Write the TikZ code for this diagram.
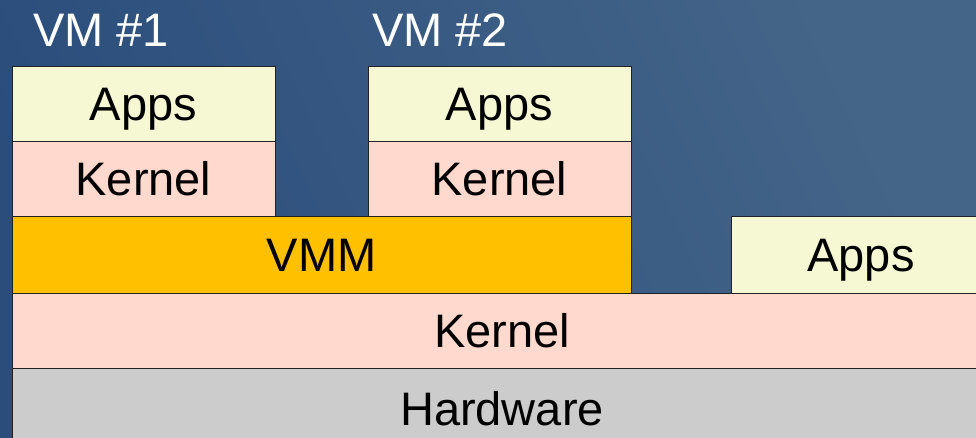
\documentclass[tikz,border=0pt]{standalone}
\usepackage{fontspec}
\setmainfont{Liberation Sans}
\definecolor{bgdark}{HTML}{2A4D7C}
\definecolor{bglight}{HTML}{456588}
\definecolor{appsfill}{HTML}{F6F8D4}
\definecolor{kernfill}{HTML}{FFD9CE}
\definecolor{vmmfill}{HTML}{FFC000}
\definecolor{hwfill}{HTML}{CCCCCC}
\definecolor{edge}{HTML}{222222}
\tikzset{
  layer/.style={draw=edge, line width=0.9pt, inner sep=0pt, outer sep=0pt,
    text height=34pt, text depth=0pt,
    font=\fontsize{47}{50}\selectfont, text=black},
  vmlabel/.style={font=\fontsize{47}{50}\selectfont, text=white, inner sep=0pt, anchor=base west}
}
\begin{document}
\begin{tikzpicture}[x=1pt,y=-1pt]
  \useasboundingbox (0,0) rectangle (976,438);
  \clip (0,0) rectangle (976,438);
  % backdrop
  \shade[bottom color=bgdark, top color=bglight, shading angle=-65] (0,0) rectangle (976,438);
  % first guest
  \node[vmlabel] (vm1) at (33,47) {VM \#1};
  \node[layer, fill=appsfill, minimum width=263pt, minimum height=75pt] (apps1) at (143.5,103.5) {Apps};
  \node[layer, fill=kernfill, minimum width=263pt, minimum height=75pt] (kern1) at (143.5,178.5) {Kernel};
  % second guest
  \node[vmlabel] (vm2) at (372,47) {VM \#2};
  \node[layer, fill=appsfill, minimum width=263pt, minimum height=75pt] (apps2) at (499.5,103.5) {Apps};
  \node[layer, fill=kernfill, minimum width=263pt, minimum height=75pt] (kern2) at (499.5,178.5) {Kernel};
  % monitor and host applications
  \node[layer, fill=vmmfill, minimum width=619pt, minimum height=77pt] (vmm) at (321.5,254.5) {VMM};
  \node[layer, fill=appsfill, minimum width=260pt, minimum height=77pt] (apps3) at (861,254.5) {Apps};
  % host layers
  \node[layer, fill=kernfill, minimum width=980pt, minimum height=75pt] (hkern) at (502,330.5) {Kernel};
  \node[layer, fill=hwfill, minimum width=980pt, minimum height=80pt] (hw) at (502,408) {Hardware};
\end{tikzpicture}
\end{document}
